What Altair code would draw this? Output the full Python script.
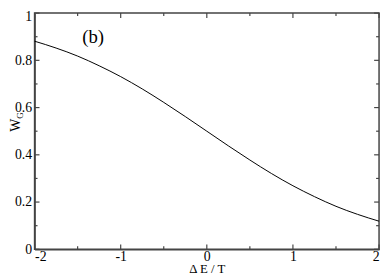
import altair as alt
import pandas as pd

# curve
x_vals = [-2, -1.75, -1.5, -1.25, -1, -0.75, -0.5, -0.25, 0, 0.25, 0.5, 0.75, 1, 1.25, 1.5, 1.75, 2]
w_vals = [0.881, 0.852, 0.818, 0.777, 0.731, 0.679, 0.622, 0.562, 0.5, 0.438, 0.378, 0.321, 0.269, 0.223, 0.182, 0.148, 0.119]

x_major = [-2, -1, 0, 1, 2]
x_minor = [-1.5, -0.5, 0.5, 1.5]
y_major = [0, 0.2, 0.4, 0.6, 0.8, 1.0]
y_minor = [0.1, 0.3, 0.5, 0.7, 0.9]

label_text = ["(b)"]
label_x = [-1.32]
label_y = [0.9]

W, H = 350, 240
FONT = "Liberation Serif"
AX = "#444444"

curve = pd.DataFrame({"x": x_vals, "w": w_vals})
xs = alt.Scale(domain=[-2, 2], nice=False)
ys = alt.Scale(domain=[0, 1], nice=False)

base_x = alt.X("x:Q", scale=xs,
               axis=alt.Axis(values=x_major, labelExpr="'' + datum.value", title="\u0394 E / T",
                             ticks=False, labelPadding=0, titlePadding=0, titleFontSize=13))
base_y = alt.Y("w:Q", scale=ys,
               axis=alt.Axis(values=y_major, labelExpr="'' + datum.value", title=None,
                             ticks=False, labelPadding=3,
                             labelBaseline={"condition": {"test": "datum.value == 1", "value": "top"},
                                            "value": "middle"},
                             labelOffset={"condition": {"test": "datum.value == 1", "value": -3},
                                          "value": 0}))

line = alt.Chart(curve).mark_line(color="black", strokeWidth=1, interpolate="monotone").encode(
    x=base_x, y=base_y)

def ticks_x(vals, length):
    df = pd.DataFrame({"x": vals})
    b = alt.Chart(df).mark_rule(color=AX, strokeWidth=1.2).encode(
        x=alt.X("x:Q", scale=xs), y=alt.value(H), y2=alt.value(H - length))
    t = alt.Chart(df).mark_rule(color=AX, strokeWidth=1.2).encode(
        x=alt.X("x:Q", scale=xs), y=alt.value(0), y2=alt.value(length))
    return b + t

def ticks_y(vals, length):
    df = pd.DataFrame({"w": vals})
    l = alt.Chart(df).mark_rule(color=AX, strokeWidth=1.2).encode(
        y=alt.Y("w:Q", scale=ys), x=alt.value(0), x2=alt.value(length))
    r = alt.Chart(df).mark_rule(color=AX, strokeWidth=1.2).encode(
        y=alt.Y("w:Q", scale=ys), x=alt.value(W), x2=alt.value(W - length))
    return l + r

ann = alt.Chart(pd.DataFrame({"t": label_text, "x": label_x, "w": label_y})).mark_text(
    font=FONT, fontSize=19, color="black", baseline="middle", align="center").encode(
    x=alt.X("x:Q", scale=xs), y=alt.Y("w:Q", scale=ys), text="t:N")

wtitle = alt.Chart(pd.DataFrame({"t": ["W"]})).mark_text(
    font=FONT, fontSize=14, angle=270, align="center", baseline="middle", color="black").encode(
    x=alt.value(-19), y=alt.value(114), text="t:N")
gtitle = alt.Chart(pd.DataFrame({"t": ["G"]})).mark_text(
    font=FONT, fontSize=9, angle=270, align="center", baseline="middle", color="black").encode(
    x=alt.value(-15), y=alt.value(104), text="t:N")

chart = alt.layer(
    line,
    ticks_x(x_major, 5), ticks_x(x_minor, 3),
    ticks_y(y_major, 5), ticks_y(y_minor, 3),
    ann, wtitle, gtitle,
).properties(
    width=W, height=H,
    autosize=alt.AutoSizeParams(type="none"),
    padding={"left": 27, "top": 3, "right": 3, "bottom": 28},
).configure_view(
    stroke=AX, strokeWidth=1.5
).configure_axis(
    labelFont=FONT, titleFont=FONT, labelFontSize=14, titleFontSize=14,
    labelColor="black", titleColor="black", domainColor=AX, domainWidth=1.5, grid=False,
    titleFontWeight="normal"
)

chart.save("out.html", embed_options={"renderer": "svg", "actions": False})
